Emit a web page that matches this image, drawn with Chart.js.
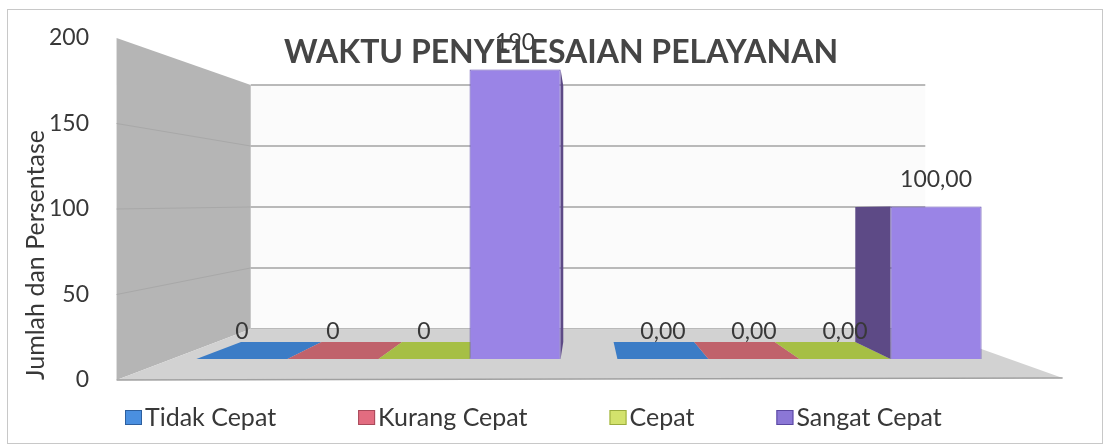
<!DOCTYPE html>
<html><head><meta charset="utf-8">
<script src="https://cdn.jsdelivr.net/npm/chart.js@4.4.0/dist/chart.umd.min.js"></script>
<style>html,body{margin:0;padding:0;background:#fff}canvas{display:block}</style>
</head><body>
<canvas id="c" width="1109" height="446"></canvas>
<script>
// ---------- data ----------
const categories = ['Jumlah', 'Persentase'];
const seriesNames = ['Tidak Cepat', 'Kurang Cepat', 'Cepat', 'Sangat Cepat'];
const tidakCepat = [0, 0];
const kurangCepat = [0, 0];
const cepat = [0, 0];
const sangatCepat = [190, 100];
const labelDecimals = [0, 2];
const yTickStep = 50;
const yMin = 0, yMax = 200;
const chartTitle = 'WAKTU PENYELESAIAN PELAYANAN';
const yTitle = 'Jumlah dan Persentase';

// ---------- style ----------
const FONT = 'Lato, "Open Sans", sans-serif';
const TXT = '#383838';
const faceColors = ['#3b7cc6', '#c0626b', '#a6bf45', '#9a84e6'];
const sideColors = ['#2c5d96', '#8f4950', '#7d9034', '#5d4a86'];
const legendColors = ['#4a8fe0', '#e26c80', '#d3e26c', '#8b77d6'];
const legendBorders = ['#2d5f9e', '#a84a5a', '#9aab3e', '#5a48a0'];
// perspective constants
const VX = 584, VY_WALL = 202, BACK = 0.713, BAR_PLANE = 0.89, VY_BAR = 211, BAR_DEPTH = 0.885;

const values = [tidakCepat, kurangCepat, cepat, sangatCepat];

function fmt(v, dec) {
  return v.toFixed(dec).replace('.', ',');
}

const threeD = {
  id: 'threeD',
  beforeDatasetsDraw(chart) {
    const ctx = chart.ctx, ca = chart.chartArea, ys = chart.scales.y;
    const fl = VX + (ca.left - VX) / BAR_PLANE;
    const fr = VX + (ca.right - VX) / BAR_PLANE;
    const bx = x => VX + (x - VX) * BACK;
    const by = y => VY_WALL + (y - VY_WALL) * BACK;
    const yTop = ys.getPixelForValue(yMax), yBot = ys.getPixelForValue(yMin);
    ctx.save();
    // back wall
    ctx.fillStyle = '#fbfbfb';
    ctx.fillRect(bx(fl), by(yTop), bx(fr) - bx(fl), by(yBot) - by(yTop));
    // back wall gridlines
    ctx.strokeStyle = '#a3a3a3';
    ctx.lineWidth = 1.5;
    for (let v = yMin; v <= yMax; v += yTickStep) {
      const yy = by(ys.getPixelForValue(v));
      ctx.beginPath(); ctx.moveTo(bx(fl), yy); ctx.lineTo(bx(fr), yy); ctx.stroke();
    }
    // left wall
    ctx.fillStyle = '#b5b5b5';
    ctx.beginPath();
    ctx.moveTo(fl, yTop); ctx.lineTo(bx(fl), by(yTop)); ctx.lineTo(bx(fl), by(yBot)); ctx.lineTo(fl, yBot);
    ctx.closePath(); ctx.fill();
    ctx.strokeStyle = '#a8a8a8'; ctx.lineWidth = 1;
    for (let v = yMin + yTickStep; v < yMax; v += yTickStep) {
      const yf = ys.getPixelForValue(v);
      ctx.beginPath(); ctx.moveTo(fl, yf); ctx.lineTo(bx(fl), by(yf)); ctx.stroke();
    }
    // floor
    ctx.fillStyle = '#d2d2d2';
    ctx.beginPath();
    ctx.moveTo(fl, yBot); ctx.lineTo(fr, yBot - 2); ctx.lineTo(bx(fr), by(yBot)); ctx.lineTo(bx(fl), by(yBot));
    ctx.closePath(); ctx.fill();
    ctx.strokeStyle = '#a0a0a0'; ctx.lineWidth = 1.5;
    ctx.beginPath(); ctx.moveTo(fl, yBot); ctx.lineTo(fr, yBot - 2); ctx.stroke();
    // bars: floor tiles for zero values, side faces for others
    const px = x => VX + (x - VX) * BAR_DEPTH;
    const py = y => VY_BAR + (y - VY_BAR) * BAR_DEPTH;
    chart.data.datasets.forEach((ds, di) => {
      const meta = chart.getDatasetMeta(di);
      meta.data.forEach((bar, i) => {
        const p = bar.getProps(['x', 'y', 'base', 'width'], true);
        const l = p.x - p.width / 2, r = p.x + p.width / 2;
        const top = Math.min(p.y, p.base), base = Math.max(p.y, p.base);
        if (ds.data[i] === 0) {
          ctx.fillStyle = faceColors[di];
          ctx.beginPath();
          ctx.moveTo(l, base); ctx.lineTo(r, base); ctx.lineTo(px(r), py(base)); ctx.lineTo(px(l), py(base));
          ctx.closePath(); ctx.fill();
        } else {
          ctx.fillStyle = sideColors[di];
          const ex = r < VX ? r : (l > VX ? l : null);
          if (ex !== null) {
            ctx.beginPath();
            ctx.moveTo(ex, top); ctx.lineTo(ex, base); ctx.lineTo(px(ex), py(base)); ctx.lineTo(px(ex), py(top));
            ctx.closePath(); ctx.fill();
          }
          if (top > VY_BAR) {
            ctx.beginPath();
            ctx.moveTo(l, top); ctx.lineTo(r, top); ctx.lineTo(px(r), py(top)); ctx.lineTo(px(l), py(top));
            ctx.closePath(); ctx.fill();
          }
        }
      });
    });
    ctx.restore();
  },
  afterDatasetsDraw(chart) {
    const ctx = chart.ctx;
    ctx.save();
    // data labels
    ctx.font = '23px ' + FONT;
    ctx.fillStyle = TXT;
    ctx.textAlign = 'center';
    ctx.textBaseline = 'middle';
    chart.data.datasets.forEach((ds, di) => {
      chart.getDatasetMeta(di).data.forEach((bar, i) => {
        const p = bar.getProps(['x', 'y'], true);
        ctx.fillText(fmt(ds.data[i], labelDecimals[i]), p.x, p.y - 27);
      });
    });
    // title
    ctx.font = 'bold 32px ' + FONT;
    ctx.fillStyle = '#454545';
    ctx.fillText(chartTitle, 561, 53);
    // legend
    ctx.font = '25px ' + FONT;
    ctx.textAlign = 'left';
    let x = 125;
    chart.data.datasets.forEach((ds, di) => {
      ctx.fillStyle = legendColors[di];
      ctx.fillRect(x, 410, 17, 15);
      ctx.strokeStyle = legendBorders[di]; ctx.lineWidth = 1;
      ctx.strokeRect(x + 0.5, 410.5, 16, 14);
      ctx.fillStyle = TXT;
      ctx.fillText(ds.label, x + 20, 418);
      x += 20 + ctx.measureText(ds.label).width + 82;
    });
    // outer frame
    ctx.strokeStyle = '#c8c8c8'; ctx.lineWidth = 1;
    ctx.strokeRect(7.5, 9.5, 1095, 434);
    ctx.restore();
  }
};

new Chart(document.getElementById('c'), {
  type: 'bar',
  data: {
    labels: categories,
    datasets: seriesNames.map((n, i) => ({
      label: n,
      data: values[i],
      backgroundColor: faceColors[i],
      borderColor: '#6652b0',
      borderWidth: values[i].some(v => v !== 0) ? 1 : 0,
      yAxisID: 'yb'
    }))
  },
  options: {
    responsive: false,
    animation: false,
    layout: { padding: { left: 16, right: 99, top: 38, bottom: 66 } },
    datasets: { bar: { categoryPercentage: 0.865, barPercentage: 1 } },
    plugins: { legend: { display: false }, title: { display: false }, tooltip: { enabled: false } },
    scales: {
      x: { display: false, offset: true },
      y: {
        type: 'linear', position: 'left', min: yMin, max: yMax,
        ticks: { stepSize: yTickStep, padding: 0, color: TXT, font: { family: FONT, size: 23 } },
        grid: { display: false, drawTicks: true, tickLength: 79 },
        border: { display: false },
        title: { display: true, text: yTitle, align: 'start', color: TXT, font: { family: FONT, size: 25 }, padding: { top: 5, bottom: 0 } },
        afterFit: s => { s.width = 152; }
      },
      yb: { type: 'linear', axis: 'y', display: false, min: -13.8, max: 210.6 }
    }
  },
  plugins: [threeD]
});
</script>
</body></html>
